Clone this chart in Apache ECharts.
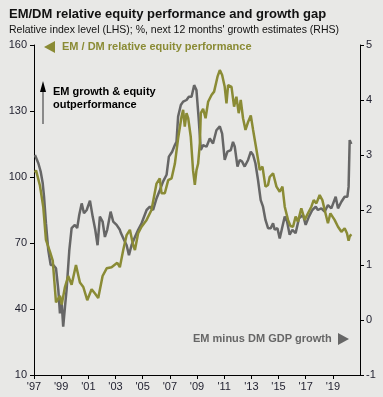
<!DOCTYPE html>
<html><head><meta charset="utf-8">
<script src="https://cdn.jsdelivr.net/npm/echarts@6/dist/echarts.min.js"></script>
<style>html,body{margin:0;padding:0;background:#e8e8e6;}#c{width:383px;height:397px;}</style>
</head><body><div id="c"></div>
<script>
// Tick labels
const xTicks = [1997,1999,2001,2003,2005,2007,2009,2011,2013,2015,2017,2019];
const leftTicks = [10,40,70,100,130,160];
const rightTicks = [-1,0,1,2,3,4,5];

// EM / DM relative equity performance (LHS)
const equityYears = [1997.07,1997.15,1997.44,1997.68,1997.88,1998.18,1998.38,1998.62,1998.91,1999.04,1999.28,1999.52,1999.77,2000.09,2000.38,2000.63,2000.92,2001.24,2001.49,2001.73,2002.05,2002.35,2002.71,2003.13,2003.32,2003.57,2003.82,2004.06,2004.30,2004.43,2004.67,2004.92,2005.29,2005.65,2006.02,2006.26,2006.39,2006.63,2006.88,2007.13,2007.37,2007.61,2007.86,2007.98,2008.10,2008.23,2008.35,2008.54,2008.71,2008.84,2008.96,2009.08,2009.21,2009.28,2009.45,2009.63,2009.82,2010.07,2010.26,2010.51,2010.68,2010.85,2011.04,2011.17,2011.29,2011.54,2011.73,2011.90,2012.07,2012.22,2012.39,2012.57,2012.76,2012.96,2013.13,2013.38,2013.62,2013.82,2014.04,2014.23,2014.35,2014.60,2014.85,2015.09,2015.29,2015.46,2015.70,2015.88,2016.07,2016.26,2016.43,2016.68,2016.93,2017.17,2017.42,2017.59,2017.79,2018.03,2018.23,2018.40,2018.64,2018.82,2019.13,2019.38,2019.63,2019.87,2020.04,2020.16,2020.24,2020.36];
const equityValues = [102,103,96,86.5,71.4,66,62,43,46,42,50,55,51,60,52,50,44,49,47,45,55,58.5,59,61,59,66.8,73.6,76,69,66.8,74.5,77.4,80.5,85,97,99.4,92.6,92.6,98.6,99.4,106,117.6,127.4,130.5,122.9,129,126.8,118.3,103,96.4,103,106,115.3,129,131,126.7,134.2,137.3,138.8,145.6,148.6,146.4,141,133.5,141.8,141,132,136.5,129,135,126.7,121.4,125,128,121.4,112.3,103.2,104.7,95.6,96.4,100,101.7,95.6,93.3,95.6,86.5,80.5,77.7,77.4,82,79.7,85.8,80.5,83.5,86.5,89.5,88,91.8,89.5,85,79,83.5,80.5,77.4,75.1,76.7,74.4,71,73,74];

// EM minus DM GDP growth (RHS)
const growthYears = [1997.07,1997.32,1997.49,1997.64,1997.74,1997.88,1998.05,1998.23,1998.42,1998.62,1998.79,1998.91,1999.04,1999.15,1999.28,1999.40,1999.60,1999.77,2000.01,2000.18,2000.33,2000.51,2000.68,2000.88,2001.12,2001.32,2001.51,2001.68,2001.85,2002.05,2002.22,2002.39,2002.64,2002.83,2003.08,2003.32,2003.40,2003.64,2003.82,2003.99,2004.18,2004.43,2004.67,2004.92,2005.29,2005.53,2005.77,2006.02,2006.26,2006.51,2006.76,2006.93,2007.17,2007.37,2007.49,2007.61,2007.81,2007.98,2008.23,2008.40,2008.60,2008.79,2008.96,2009.13,2009.28,2009.45,2009.70,2009.94,2010.18,2010.43,2010.68,2010.85,2011.04,2011.24,2011.49,2011.65,2011.78,2011.98,2012.15,2012.32,2012.51,2012.76,2012.96,2013.13,2013.30,2013.49,2013.69,2013.86,2014.04,2014.23,2014.43,2014.60,2014.72,2014.92,2015.09,2015.29,2015.46,2015.63,2015.82,2016.02,2016.26,2016.51,2016.80,2017.00,2017.24,2017.49,2017.74,2017.90,2018.15,2018.40,2018.64,2018.89,2019.21,2019.38,2019.63,2019.87,2020.07,2020.16,2020.24,2020.36];
const growthValues = [3.0,2.85,2.70,2.49,2.24,1.76,1.27,1.0,1.0,0.94,0.55,0.12,0.30,-0.12,0.24,0.55,1.27,1.67,1.73,1.67,1.91,2.12,1.94,2.0,2.17,1.88,1.64,1.36,1.88,1.79,1.51,1.64,1.97,1.79,1.73,1.64,1.58,1.45,1.36,1.18,1.36,1.51,1.64,1.76,2.0,2.06,2.0,2.21,2.36,2.52,2.64,2.97,3.06,3.18,3.24,3.70,3.91,3.97,4.0,4.06,4.06,4.27,4.18,3.64,3.09,3.18,3.15,3.30,3.21,3.45,3.52,3.39,2.91,3.06,3.09,3.24,3.15,2.79,2.91,2.88,2.79,2.91,3.06,3.0,2.85,2.55,2.18,2.06,1.82,1.67,1.67,1.76,1.64,1.67,1.48,1.70,1.88,1.79,1.55,1.64,1.58,1.85,1.91,1.73,1.88,2.0,2.06,2.0,2.03,1.97,2.09,2.03,2.24,2.03,2.15,2.24,2.24,2.42,3.27,3.2];

const GREEN = '#8a8b35', GREY = '#666666', TXT = '#1f1f2e';
const FONT = 'Arial, "Liberation Sans", sans-serif';

const chart = echarts.init(document.getElementById('c'), null, {renderer:'canvas'});
const axisLine = {show:true, onZero:false, lineStyle:{color:'#000', width:1}};
chart.setOption({
  backgroundColor:'#e8e8e6',
  animation:false,
  textStyle:{fontFamily:FONT},
  title:{
    text:'EM/DM relative equity performance and growth gap',
    subtext:"Relative index level (LHS); %, next 12 months' growth estimates (RHS)",
    left:4, top:3, itemGap:4,
    textStyle:{fontFamily:FONT, fontSize:13, fontWeight:'bold', color:'#111'},
    subtextStyle:{fontFamily:FONT, fontSize:10.5, color:'#111'}
  },
  grid:{left:34, right:23, top:45, bottom:22, containLabel:false},
  xAxis:{
    type:'value', min:1997, max:2021,
    axisLine:axisLine,
    axisTick:{show:true, length:4, lineStyle:{color:'#000'}, customValues:xTicks},
    axisLabel:{customValues:xTicks, formatter:v=>"'"+String(v).slice(2), color:TXT, fontSize:11, margin:6, fontFamily:FONT},
    splitLine:{show:false}
  },
  yAxis:[
    {type:'value', min:10, max:160, position:'left',
     axisLine:axisLine,
     axisTick:{show:true, length:4, lineStyle:{color:'#000'}, customValues:leftTicks},
     axisLabel:{customValues:leftTicks, color:TXT, fontSize:11, margin:7, fontFamily:FONT},
     splitLine:{show:false}},
    {type:'value', min:-1, max:5, interval:1, position:'right',
     axisLine:axisLine,
     axisTick:{show:true, length:4, lineStyle:{color:'#000'}, customValues:rightTicks},
     axisLabel:{customValues:rightTicks, color:TXT, fontSize:11, margin:6, fontFamily:FONT},
     splitLine:{show:false}}
  ],
  series:[
    {type:'line', name:'EM minus DM GDP growth', yAxisIndex:1, showSymbol:false,
     lineStyle:{color:GREY, width:2.5}, itemStyle:{color:GREY},
     data:growthYears.map((y,i)=>[y,growthValues[i]])},
    {type:'line', name:'EM / DM relative equity performance', yAxisIndex:0, showSymbol:false,
     lineStyle:{color:GREEN, width:2.5}, itemStyle:{color:GREEN},
     data:equityYears.map((y,i)=>[y,equityValues[i]])}
  ],
  graphic:[
    {type:'polygon', shape:{points:[[44,47],[55,41],[55,53]]}, style:{fill:GREEN}},
    {type:'text', left:62, top:41, style:{text:'EM / DM relative equity performance', fill:GREEN, font:'bold 11px '+FONT}},
    {type:'polygon', shape:{points:[[349,339],[338,333],[338,345]]}, style:{fill:GREY}},
    {type:'text', left:193, top:333, style:{text:'EM minus DM GDP growth', fill:GREY, font:'bold 11px '+FONT}},
    {type:'line', shape:{x1:43, y1:92, x2:43, y2:124}, style:{stroke:'#8a8a8a', lineWidth:2}},
    {type:'polygon', shape:{points:[[43,81],[40,92],[46,92]]}, style:{fill:'#000'}},
    {type:'text', left:53, top:85, style:{text:'EM growth & equity\noutperformance', fill:'#000', font:'bold 11px '+FONT, lineHeight:13}}
  ]
});
</script></body></html>
